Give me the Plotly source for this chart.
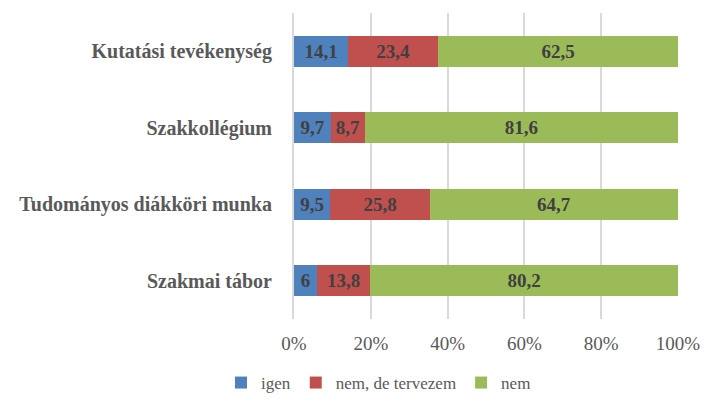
import plotly.graph_objects as go

categories = ["Szakmai tábor", "Tudományos diákköri munka", "Szakkollégium", "Kutatási tevékenység"]
igen = [6, 9.5, 9.7, 14.1]
tervezem = [13.8, 25.8, 8.7, 23.4]
nem = [80.2, 64.7, 81.6, 62.5]

series = [
    ("igen", igen, "#4F81BD"),
    ("nem, de tervezem", tervezem, "#C0504D"),
    ("nem", nem, "#9BBB59"),
]

FONT = "Liberation Serif"

fig = go.Figure()
for name, vals, color in series:
    fig.add_trace(go.Bar(
        y=categories, x=vals, name=name, orientation="h",
        marker=dict(color=color, line=dict(width=0)),
        text=[f"{v:g}".replace(".", ",") for v in vals],
        textposition="inside", insidetextanchor="middle",
        textangle=0,
        textfont=dict(family=FONT, size=19, color="#404040", weight="bold"),
        constraintext="none",
    ))

fig.update_layout(
    barmode="stack",
    bargap=0.6,
    width=704, height=401,
    margin=dict(l=294, r=26, t=13, b=82),
    paper_bgcolor="white",
    plot_bgcolor="white",
    font=dict(family=FONT, color="#595959"),
    uniformtext=dict(mode="show", minsize=10),
    # container ref keeps the legend from pushing the bottom margin
    legend=dict(
        orientation="h", x=0.22, xanchor="center",
        yref="container", y=0.0, yanchor="bottom",
        font=dict(family=FONT, size=17, color="#595959"),
        traceorder="normal", itemwidth=30,
    ),
)
fig.update_xaxes(
    range=[0, 100], dtick=20, ticksuffix="%",
    showgrid=True, gridcolor="#D9D9D9", gridwidth=2,
    zeroline=False, showline=False, automargin=False,
    tickfont=dict(family=FONT, size=19, color="#595959"),
    ticks="", ticklabelstandoff=11,
)
fig.update_yaxes(
    showgrid=False, showline=True, linecolor="#D9D9D9", linewidth=2,
    automargin=False,
    tickfont=dict(family=FONT, size=20, color="#595959", weight="bold"),
    ticks="", ticklabelstandoff=16,
)

fig.write_html("out.html", config={"displayModeBar": False},
               post_script="document.body.style.margin='0';")
